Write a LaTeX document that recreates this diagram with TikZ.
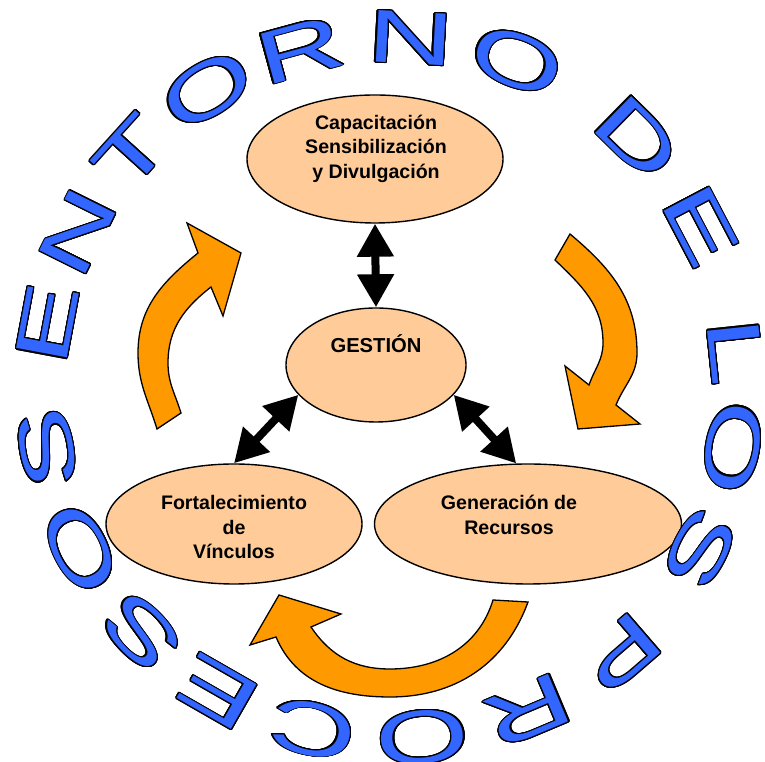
\documentclass[tikz,border=0pt]{standalone}
\usepackage{fontspec}
\setmainfont{Liberation Sans}
\usepackage{graphicx}
\usepackage{contour}
\usetikzlibrary{arrows.meta,shapes.geometric}
\definecolor{lblue}{RGB}{51,102,255}
\definecolor{orng}{RGB}{255,153,0}
\definecolor{peach}{RGB}{255,204,153}
\contourlength{0.9pt}
\contournumber{24}
\begin{document}
\begin{tikzpicture}[x=1pt,y=1pt,
  ell/.style={ellipse,draw=black,line width=1.4pt,fill=peach,inner sep=0pt},
  lbl/.style={font=\fontsize{19.6}{24.5}\selectfont\bfseries,align=center,inner sep=0pt},
  dbl/.style={line width=8pt,{Triangle[length=33pt,width=35pt]}-{Triangle[length=33pt,width=35pt]}},
  curv/.style={draw=black,line width=1.3pt,fill=orng,line join=miter},
  letter/.style={inner sep=0pt,font=\fontsize{75}{80}\selectfont}
]
\useasboundingbox (0,0) rectangle (765,762);

% ellipses
\node[ell,minimum width=256pt,minimum height=128pt] (cap) at (375,603) {};
\node[lbl] (capt) at (376,613.5) {Capacitación\\Sensibilización\\y Divulgación};
\node[ell,minimum width=180pt,minimum height=114pt] (ges) at (376,397) {};
\node[lbl,anchor=base,font=\fontsize{20.2}{24.5}\selectfont\bfseries] (gest) at (376,409) {GESTIÓN};
\node[ell,minimum width=256pt,minimum height=120pt] (fort) at (234,238) {};
\node[lbl] (fortt) at (234,234.6) {Fortalecimiento\\de\\Vínculos};
\node[ell,minimum width=307pt,minimum height=120pt] (gen) at (528,238) {};
\node[lbl] (gent) at (509,247) {Generación de\\Recursos};

% double arrows
\draw[dbl] (cap.south) -- (ges.north);
\draw[dbl] (ges.201) -- (fort.north);
\draw[dbl] (ges.-21) -- (gen.101);

% orange curved arrows
\draw[curv] (157,333) to[out=107,in=-90] (138,409) to[out=90,in=-141] (198,509)
  -- (187,539) -- (241,509) -- (223,446) -- (211,475)
  to[out=-142,in=90] (168,399) to[out=-90,in=107] (181,349) -- cycle;
\draw[curv] (570,528) to[out=-40,in=90] (637,409) to[out=-90,in=68] (616,357)
  -- (640,338) -- (578,333) -- (565,396) -- (589,377)
  to[out=71,in=-90] (603,419) to[out=90,in=-44] (555,502) -- cycle;
\draw[curv] (528,160) to[out=-110,in=0] (390,65) to[out=180,in=-67] (276,125)
  -- (250,117) -- (279,167) -- (341,148) -- (311,135)
  to[out=-56,in=180] (390,93) to[out=0,in=-107] (493,162) -- cycle;

% circular text
\begin{scope}[shift={(392,374)}]
\foreach \a/\r/\l [count=\i] in {169.4/350/E,153.6/350/N,137.9/350/T,121.8/350/O,105.2/350/R,86.9/350/N,69.1/350/O,45.5/350/D,27.7/348/E,6/345/L,-9.9/346/O,-27.5/348/S,-49.2/350/P,-67.2/350/R,-85/350/O,-103/350/C,-119.8/350/E,-135.6/350/S,-152.7/350/O,-170/350/S}
  \node[letter,rotate=\a-90] (L\i) at (\a:\r) {\scalebox{1.6}[1]{\color{lblue}\contour{black}{\l}}};
\end{scope}
\end{tikzpicture}
\end{document}
